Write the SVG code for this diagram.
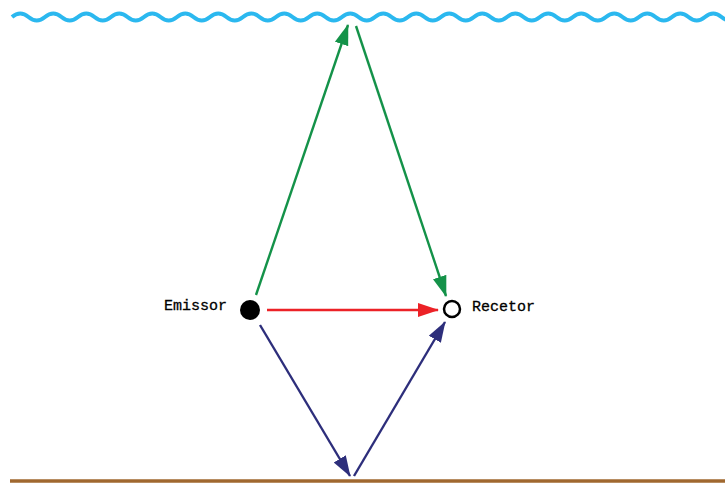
<svg xmlns="http://www.w3.org/2000/svg" width="725" height="484" viewBox="0 0 725 484">
<defs>
<style>
.lbl{font-family:"Liberation Mono","DejaVu Sans Mono",monospace;font-size:15px;fill:#000;stroke:#000;stroke-width:0.3}
.g{stroke:#149249;stroke-width:2.4;fill:none}
.r{stroke:#ec2227;stroke-width:2.4;fill:none}
.b{stroke:#2d2e7b;stroke-width:2.4;fill:none}
</style>
<marker id="ag" markerWidth="22" markerHeight="16" refX="20" refY="8" orient="auto" markerUnits="userSpaceOnUse"><path d="M0,1 L21,8 L0,15 Z" fill="#149249"/></marker>
<marker id="ar" markerWidth="22" markerHeight="16" refX="20" refY="8" orient="auto" markerUnits="userSpaceOnUse"><path d="M0,1 L21,8 L0,15 Z" fill="#ec2227"/></marker>
<marker id="ab" markerWidth="22" markerHeight="16" refX="20" refY="8" orient="auto" markerUnits="userSpaceOnUse"><path d="M0,1 L21,8 L0,15 Z" fill="#2d2e7b"/></marker>
</defs>
<rect width="725" height="484" fill="#fff"/>
<g id="surface">
<path d="M12,17 q8.25,-7 16.5,0 t16.5,0 t16.5,0 t16.5,0 t16.5,0 t16.5,0 t16.5,0 t16.5,0 t16.5,0 t16.5,0 t16.5,0 t16.5,0 t16.5,0 t16.5,0 t16.5,0 t16.5,0 t16.5,0 t16.5,0 t16.5,0 t16.5,0 t16.5,0 t16.5,0 t16.5,0 t16.5,0 t16.5,0 t16.5,0 t16.5,0 t16.5,0 t16.5,0 t16.5,0 t16.5,0 t16.5,0 t16.5,0 t16.5,0 t16.5,0 t16.5,0 t16.5,0 t16.5,0 t16.5,0 t16.5,0 t16.5,0 t16.5,0 t16.5,0 t16.5,0 t16.5,0 t16.5,0" fill="none" stroke="#2bb8ef" stroke-width="4"/>
</g>
<g id="bottom">
<line x1="10" y1="481" x2="725" y2="481" stroke="#a0682f" stroke-width="3.5"/>
</g>
<g id="connectors">
<line class="g" x1="256" y1="295" x2="348" y2="25" marker-end="url(#ag)"/>
<line class="g" x1="356" y1="26" x2="446" y2="296" marker-end="url(#ag)"/>
<line class="r" x1="267" y1="310" x2="438" y2="310" marker-end="url(#ar)"/>
<line class="b" x1="260" y1="325" x2="350" y2="476" marker-end="url(#ab)"/>
<line class="b" x1="354" y1="476" x2="445" y2="322" marker-end="url(#ab)"/>
</g>
<g id="emissor">
<circle cx="250" cy="310" r="10" fill="#000"/>
<text class="lbl" x="227" y="310" text-anchor="end">Emissor</text>
</g>
<g id="recetor">
<circle cx="452" cy="309" r="8" fill="#fff" stroke="#000" stroke-width="2.5"/>
<text class="lbl" x="472" y="311">Recetor</text>
</g>
</svg>
